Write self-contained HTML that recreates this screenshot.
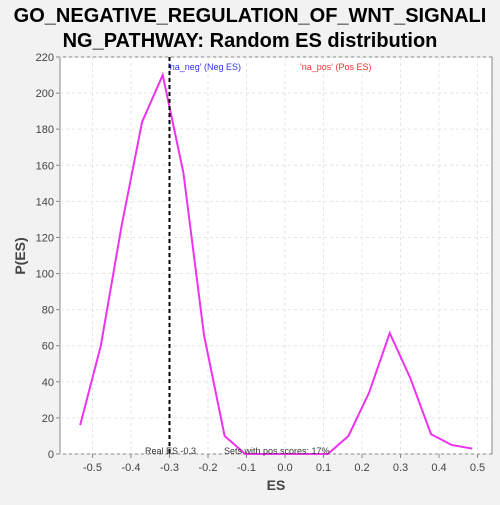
<!DOCTYPE html>
<html><head><meta charset="utf-8"><style>
body{margin:0;background:#f2f2f2;width:500px;height:500px;overflow:hidden;font-family:"Liberation Sans",sans-serif}
</style></head><body>
<svg width="500" height="500">
<text x="250" y="22" text-anchor="middle" font-size="20" font-weight="bold" fill="#000">GO_NEGATIVE_REGULATION_OF_WNT_SIGNALI</text>
<text x="250" y="47" text-anchor="middle" font-size="20" font-weight="bold" fill="#000">NG_PATHWAY: Random ES distribution</text>
<rect x="60" y="57" width="432" height="397" fill="#fff" stroke="#888"/>
<g id="grid"></g><g id="axes"></g>
<polyline id="line" fill="none" stroke="#ee33ee" stroke-width="2"/>
<line id="realEs" stroke="#000" stroke-width="2" stroke-dasharray="4,3"/>
<text x="168" y="70" font-size="9" fill="#3333ee">'na_neg' (Neg ES)</text>
<text x="300" y="70" font-size="9" fill="#ee3333">'na_pos' (Pos ES)</text>
<text x="145" y="454" font-size="9" fill="#333">Real ES -0.3</text>
<text x="224" y="454" font-size="9" fill="#333">Sets with pos scores: 17%</text>
<text x="276" y="490" text-anchor="middle" font-size="14" font-weight="bold" fill="#444">ES</text>
<text transform="translate(25,256) rotate(-90)" text-anchor="middle" font-size="14" font-weight="bold" fill="#444">P(ES)</text>
</svg>
<script>
const esValues=[16,60,126,184,210,156,66,10,0,0,0,0,0,10,34,67,42,11,5,3];
const esStart=-0.532, esStep=0.0536;
const xTicks=[-0.5,-0.4,-0.3,-0.2,-0.1,0.0,0.1,0.2,0.3,0.4,0.5];
const yTicks=[0,20,40,60,80,100,120,140,160,180,200,220];
const realES=-0.3;
const ns="http://www.w3.org/2000/svg";
const xs=v=>285+v*385, ys=v=>454-v*397/220;
const g=document.getElementById('grid'),ax=document.getElementById('axes');
function mk(tag,at,p){const e=document.createElementNS(ns,tag);for(const k in at)e.setAttribute(k,at[k]);p.appendChild(e);return e;}
xTicks.forEach(t=>{
 const l=mk('line',{x1:xs(t),x2:xs(t),y1:57,y2:454,stroke:'#e4e4e4','stroke-dasharray':'3,3'},g);
 
 
 const tk=mk('line',{x1:xs(t),x2:xs(t),y1:454,y2:458,stroke:'#888'},ax);
 
 
 const tx=mk('text',{x:xs(t),y:471,'text-anchor':'middle','font-size':11,fill:'#444'},ax);
 tx.textContent=t.toFixed(1);
 
 
});
yTicks.forEach(t=>{
 const l=mk('line',{x1:60,x2:492,y1:ys(t),y2:ys(t),stroke:'#e4e4e4','stroke-dasharray':'3,3'},g);
 
 
 const tk=mk('line',{x1:56,x2:60,y1:ys(t),y2:ys(t),stroke:'#888'},ax);
 
 
 const tx=mk('text',{x:54,y:ys(t)+4,'text-anchor':'end','font-size':11,fill:'#444'},ax);
 tx.textContent=t;
 
 
});
document.getElementById('line').setAttribute('points',esValues.map((v,i)=>xs(esStart+i*esStep)+','+ys(v)).join(' '));
const r=document.getElementById('realEs');
r.setAttribute('x1',xs(realES));r.setAttribute('x2',xs(realES));r.setAttribute('y1',57);r.setAttribute('y2',454);
</script>
</body></html>
